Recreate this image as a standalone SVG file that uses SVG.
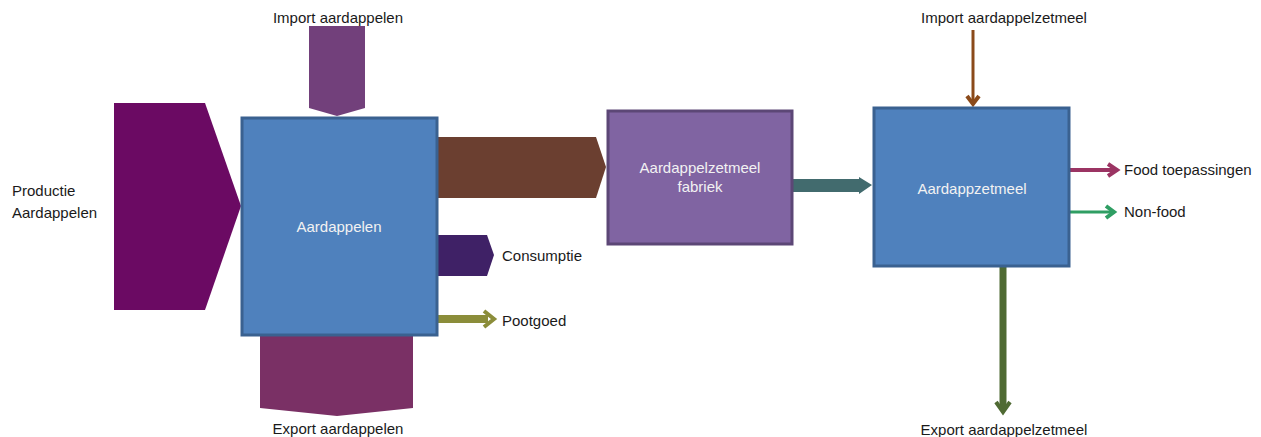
<svg xmlns="http://www.w3.org/2000/svg" width="1261" height="437" viewBox="0 0 1261 437">
<style>
text{font-family:"Liberation Sans",Arial,sans-serif;font-size:15px;fill:#1a1a1a}
.w{fill:#f2f2f2;text-anchor:middle}
.c{text-anchor:middle}
.box{stroke-width:3}
.chev{fill:none;stroke-width:4;stroke-linejoin:miter}
</style>
<g id="connectors">
<polygon id="productie" points="114,103 205,103 241,206 205,310 114,310" fill="#6B0A63"/>
<polygon id="import-aard" points="309,26 365,26 365,108 337,116 309,108" fill="#72407B"/>
<polygon id="export-aard" points="260,336 413,336 413,408 337,416 260,408" fill="#7A3065"/>
<polygon id="naar-fabriek" points="438,137 596,137 606,167 596,198 438,198" fill="#6B3F30"/>
<polygon id="consumptie" points="438,235 487,235 494,255 487,276 438,276" fill="#3F2166"/>
<g id="pootgoed">
<rect x="438" y="315" width="50" height="8" fill="#8B8D3A"/>
<path d="M484,311 L494,319 L484,327" class="chev" stroke="#8B8D3A"/>
</g>
<polygon id="naar-zetmeel" points="793,179 859,179 859,177 872,185 859,194 859,192 793,192" fill="#426B6E"/>
<g id="import-zetmeel">
<line x1="973" y1="30" x2="973" y2="102" stroke="#8B4A1A" stroke-width="3"/>
<path d="M967,96 L973,104 L979,96" class="chev" stroke="#8B4A1A"/>
</g>
<g id="food">
<line x1="1070" y1="170" x2="1116" y2="170" stroke="#9B3463" stroke-width="4"/>
<path d="M1108,164 L1117,170 L1108,176" class="chev" stroke="#9B3463"/>
</g>
<g id="nonfood">
<line x1="1070" y1="212" x2="1113" y2="212" stroke="#2F9E63" stroke-width="3"/>
<path d="M1106,206 L1114,212 L1106,218" class="chev" stroke="#2F9E63"/>
</g>
<g id="export-zetmeel">
<line x1="1003" y1="267" x2="1003" y2="410" stroke="#4F6A33" stroke-width="7"/>
<path d="M996,402 L1003,412 L1010,402" class="chev" stroke="#4F6A33" stroke-width="5"/>
</g>
</g>
<g id="node-aardappelen">
<rect class="box" x="242" y="118" width="195" height="217" fill="#4F81BD" stroke="#3A6190"/>
<text class="w" x="339" y="232">Aardappelen</text>
</g>
<g id="node-fabriek">
<rect class="box" x="608" y="111" width="184" height="133" fill="#8064A2" stroke="#5C4776"/>
<text class="w" x="700" y="173">Aardappelzetmeel</text>
<text class="w" x="700" y="192">fabriek</text>
</g>
<g id="node-zetmeel">
<rect class="box" x="874" y="108" width="195" height="158" fill="#4F81BD" stroke="#3A6190"/>
<text class="w" x="972" y="194">Aardappzetmeel</text>
</g>
<g id="labels">
<text class="c" x="338" y="23">Import aardappelen</text>
<text class="c" x="338" y="434">Export aardappelen</text>
<text x="12" y="196">Productie</text>
<text x="12" y="218">Aardappelen</text>
<text x="502" y="261">Consumptie</text>
<text x="502" y="326">Pootgoed</text>
<text class="c" x="1004" y="23">Import aardappelzetmeel</text>
<text class="c" x="1004" y="435">Export aardappelzetmeel</text>
<text x="1124" y="175">Food toepassingen</text>
<text x="1124" y="217">Non-food</text>
</g>
</svg>
